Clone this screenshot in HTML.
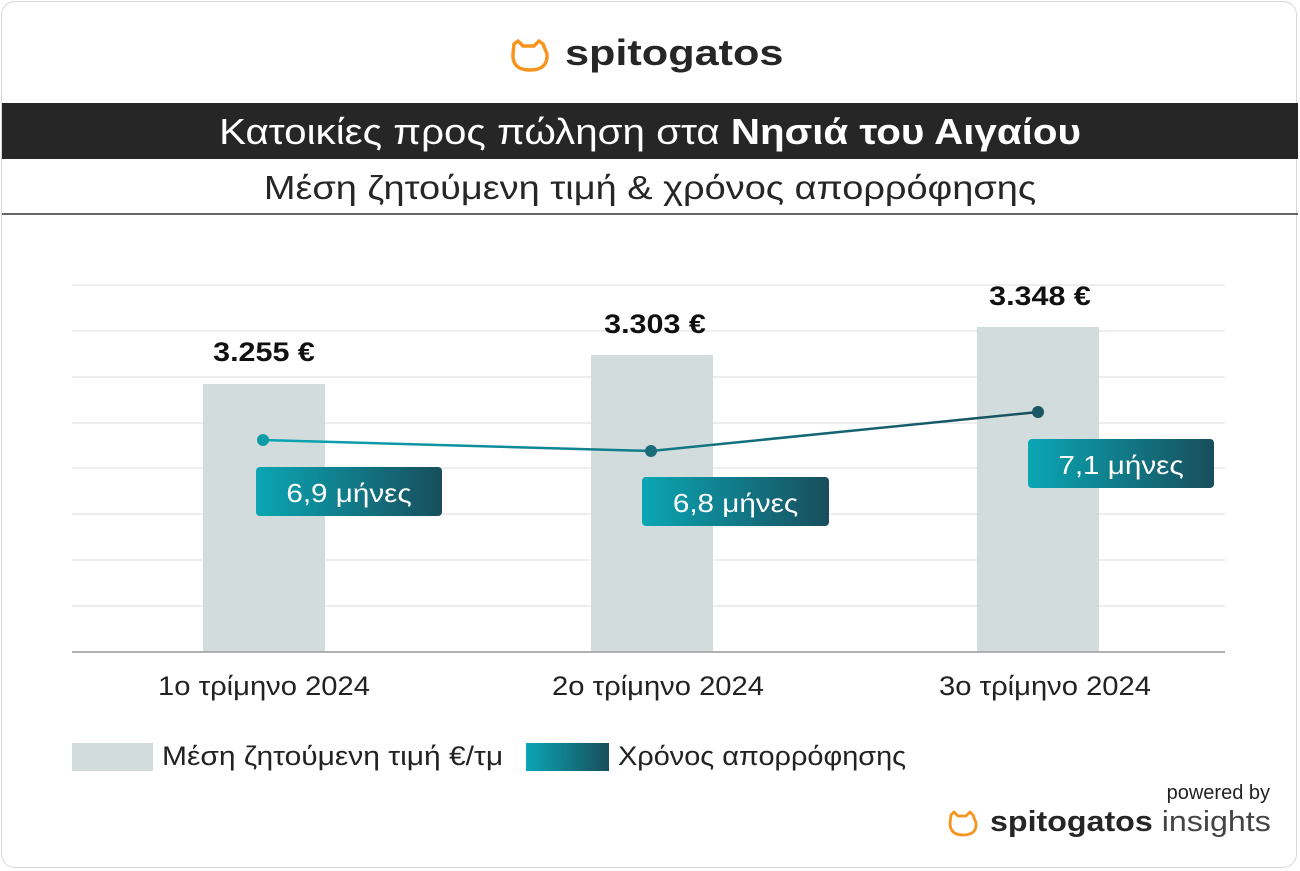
<!DOCTYPE html>
<html><head><meta charset="utf-8"><style>
body{margin:0;background:#fff;width:1300px;height:871px;overflow:hidden;font-family:"Liberation Sans","DejaVu Sans",sans-serif}
.frame{position:absolute;left:1px;top:1px;width:1296px;height:867px;border:1px solid #d8d8d8;border-radius:14px;box-sizing:border-box}
.t{position:absolute;white-space:nowrap}
</style></head><body>
<div class="frame"></div>
<svg width="1300" height="871" style="position:absolute;left:0;top:0">
<defs>
<linearGradient id="g" x1="0" x2="1"><stop offset="0" stop-color="#0aa6b4"/><stop offset="1" stop-color="#184e5c"/></linearGradient>
<linearGradient id="lg" x1="0" x2="1"><stop offset="0" stop-color="#0aa6b4"/><stop offset="1" stop-color="#184e5c"/></linearGradient>
</defs>
<path d="M514 44 L518 41 L523 46 L534 46 L539 41 L543 44 L547 54 Q548 70 530 70 Q512 70 513 54 Z" fill="none" stroke="#f7941d" stroke-width="3.5" stroke-linejoin="round"/>
<rect x="2" y="103" width="1296" height="56" fill="#262626"/>
<line x1="2" y1="214" x2="1298" y2="214" stroke="#333" stroke-width="1.5"/>
<g stroke="#dcdcdc" stroke-width="1">
<line x1="72" x2="1225" y1="285" y2="285"/><line x1="72" x2="1225" y1="331" y2="331"/>
<line x1="72" x2="1225" y1="377" y2="377"/><line x1="72" x2="1225" y1="423" y2="423"/>
<line x1="72" x2="1225" y1="468" y2="468"/><line x1="72" x2="1225" y1="514" y2="514"/>
<line x1="72" x2="1225" y1="560" y2="560"/><line x1="72" x2="1225" y1="606" y2="606"/>
</g>
<rect x="203" y="384" width="122" height="268" fill="#d2dcdc"/>
<rect x="591" y="355" width="122" height="297" fill="#d2dcdc"/>
<rect x="977" y="327" width="122" height="325" fill="#d2dcdc"/>
<line x1="72" x2="1225" y1="652" y2="652" stroke="#999" stroke-width="1.5"/>
<polyline points="263,440 651,451 1038,412" fill="none" stroke="url(#lg)" stroke-width="2.5"/>
<circle cx="263" cy="440" r="6" fill="#0f9aa8"/>
<circle cx="651" cy="451" r="6" fill="#1a6a78"/>
<circle cx="1038" cy="412" r="6" fill="#1a5664"/>
<rect x="256" y="467" width="186" height="49" rx="4" fill="url(#g)"/>
<rect x="642" y="477" width="187" height="49" rx="4" fill="url(#g)"/>
<rect x="1028" y="439" width="186" height="49" rx="4" fill="url(#g)"/>
<rect x="72" y="743" width="81" height="28" fill="#d2dcdc"/>
<rect x="526" y="743" width="83" height="28" fill="url(#g)"/>
<path d="M951 815 L954 812 L958 816 L966 816 L970 812 L973 815 L976 823 Q977 835 963 835 Q950 835 950 823 Z" fill="none" stroke="#f7941d" stroke-width="2.8" stroke-linejoin="round"/>
</svg>
<div class="t" style="left:565px;top:32px;font-size:36px;font-weight:bold;color:#262626;transform:scaleX(1.2);transform-origin:left">spitogatos</div>
<div class="t" style="left:0;width:1300px;text-align:center;top:111px;font-size:36px;color:#fff;transform:scaleX(1.12)">Κατοικίες προς πώληση στα <b>Νησιά του Αιγαίου</b></div>
<div class="t" style="left:0;width:1300px;text-align:center;top:169px;font-size:33px;color:#262626;transform:scaleX(1.15)">Μέση ζητούμενη τιμή &amp; χρόνος απορρόφησης</div>
<div class="t" style="left:164px;width:200px;text-align:center;top:337px;font-size:27px;font-weight:bold;color:#111;transform:scaleX(1.13)">3.255 €</div>
<div class="t" style="left:555px;width:200px;text-align:center;top:309px;font-size:27px;font-weight:bold;color:#111;transform:scaleX(1.13)">3.303 €</div>
<div class="t" style="left:940px;width:200px;text-align:center;top:281px;font-size:27px;font-weight:bold;color:#111;transform:scaleX(1.13)">3.348 €</div>
<div class="t" style="left:256px;width:186px;text-align:center;top:478px;font-size:26px;color:#fff;transform:scaleX(1.14)">6,9 μήνες</div>
<div class="t" style="left:642px;width:187px;text-align:center;top:488px;font-size:26px;color:#fff;transform:scaleX(1.14)">6,8 μήνες</div>
<div class="t" style="left:1028px;width:186px;text-align:center;top:450px;font-size:26px;color:#fff;transform:scaleX(1.14)">7,1 μήνες</div>
<div class="t" style="left:114px;width:300px;text-align:center;top:671px;font-size:27px;color:#222;transform:scaleX(1.08)">1ο τρίμηνο 2024</div>
<div class="t" style="left:508px;width:300px;text-align:center;top:671px;font-size:27px;color:#222;transform:scaleX(1.08)">2ο τρίμηνο 2024</div>
<div class="t" style="left:895px;width:300px;text-align:center;top:671px;font-size:27px;color:#222;transform:scaleX(1.08)">3ο τρίμηνο 2024</div>
<div class="t" style="left:162px;top:741px;font-size:27px;color:#222;transform:scaleX(1.11);transform-origin:left">Μέση ζητούμενη τιμή €/τμ</div>
<div class="t" style="left:618px;top:741px;font-size:27px;color:#222;transform:scaleX(1.07);transform-origin:left">Χρόνος απορρόφησης</div>
<div class="t" style="right:30px;top:782px;font-size:20px;color:#222">powered by</div>
<div class="t" style="left:990px;top:806px;font-size:29px;color:#262626;transform:scaleX(1.11);transform-origin:left"><b>spitogatos</b> <span style="color:#444">insights</span></div>
</body></html>
